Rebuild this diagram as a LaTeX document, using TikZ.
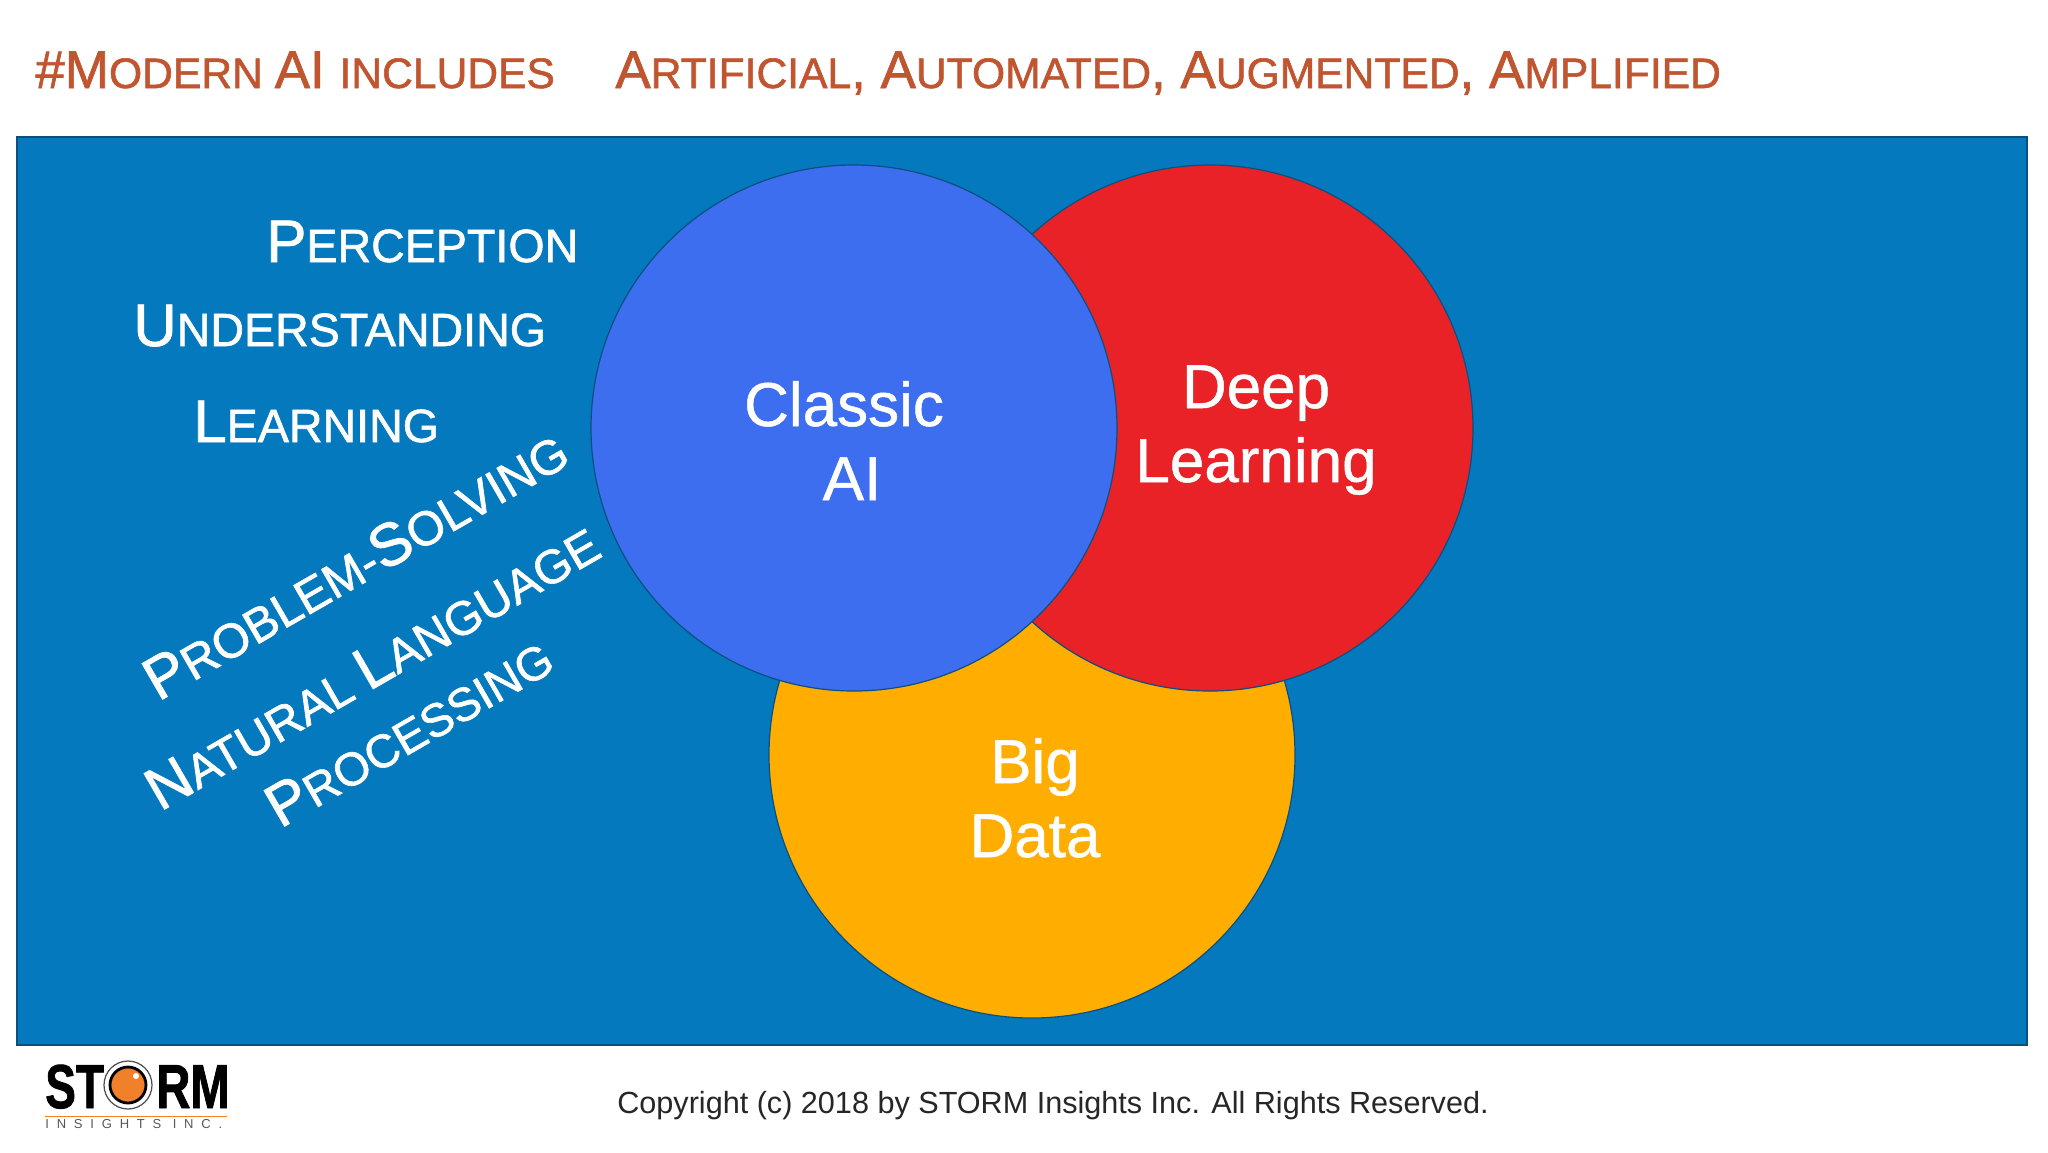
\documentclass[tikz,border=0pt]{standalone}
\usepackage{fontspec}
\setmainfont{Liberation Sans}
\newfontfamily\heavy[FakeBold=1.3]{Liberation Sans}
\newfontfamily\medium[FakeBold=0.8]{Liberation Sans}
\newfontfamily\logofont[FakeBold=1.5]{Liberation Sans}
\newfontfamily\logotag[LetterSpace=60]{Liberation Sans}
\definecolor{panelblue}{HTML}{0579BE}
\definecolor{paneledge}{HTML}{0B4F80}
\definecolor{classicblue}{HTML}{3D6EF0}
\definecolor{deepred}{HTML}{E92227}
\definecolor{bigamber}{HTML}{FFAE00}
\definecolor{titlerust}{HTML}{C1552F}
\definecolor{logoorange}{HTML}{F0812A}
\newcommand{\tbig}[1]{{\fontsize{26.5}{30}\selectfont #1}}
\newcommand{\tsm}[1]{{\fontsize{21.3}{30}\selectfont #1}}
\newcommand{\wbig}[1]{{\fontsize{30}{34}\selectfont #1}}
\newcommand{\wsm}[1]{{\fontsize{23.3}{34}\selectfont #1}}
\newcommand{\wmid}[1]{{\fontsize{24.1}{34}\selectfont #1}}
\newcommand{\wnat}[1]{{\fontsize{23.8}{34}\selectfont #1}}
\tikzset{
  x=0.5pt,y=-0.5pt,
  venn/.style={circle,draw=paneledge,line width=0.6pt,inner sep=0pt,outer sep=0pt,minimum size=#1},
  titletext/.style={anchor=base west,inner sep=0pt,text=titlerust,font=\heavy},
  skill/.style={anchor=base west,inner sep=0pt,text=white,font=\heavy},
  venntext/.style={anchor=base,inner sep=0pt,text=white,font=\medium\fontsize{31}{36}\selectfont},
}
\begin{document}
\begin{tikzpicture}
\useasboundingbox (0,0) rectangle (2048,1152);
\fill[white] (0,0) rectangle (2048,1152);
\node[titletext] (t1) at (35,88) {\tbig{\#M}\tsm{ODERN }\tbig{AI }\tsm{INCLUDES}};
\node[titletext] (t2) at (615,88) {\tbig{A}\tsm{RTIFICIAL}\tbig{, A}\tsm{UTOMATED}\tbig{, A}\tsm{UGMENTED}\tbig{, A}\tsm{MPLIFIED}};
\fill[panelblue,draw=paneledge,line width=0.7pt] (17,137) rectangle (2027,1045);
\node[venn=263pt,fill=bigamber] (big) at (1032,755) {};
\node[venn=263pt,fill=deepred] (deep) at (1210,428) {};
\node[venn=263pt,fill=classicblue] (classic) at (854,428) {};
\node[venntext] (c1) at (844,426) {Classic};
\node[venntext] (c2) at (852,500) {AI};
\node[venntext] (d1) at (1256,408) {Deep};
\node[venntext] (d2) at (1256,482) {Learning};
\node[venntext] (b1) at (1035,783) {Big};
\node[venntext] (b2) at (1035,857) {Data};
\node[skill] (s1) at (266,262) {\wbig{P}\wsm{ERCEPTION}};
\node[skill] (s2) at (133,346) {\wbig{U}\wsm{NDERSTANDING}};
\node[skill] (s3) at (193,442) {\wbig{L}\wsm{EARNING}};
\node[skill,rotate=30] (s4) at (158,702) {\wbig{P}\wmid{ROBLEM-}\wbig{S}\wmid{OLVING}};
\node[skill,rotate=30] (s5) at (160,812) {\wbig{N}\wnat{ATURAL }\wbig{L}\wnat{ANGUAGE}};
\node[skill,rotate=30] (s6) at (280,829) {\wbig{P}\wsm{ROCESSING}};
\node[anchor=base,inner sep=0pt,text=black!85,font=\fontsize{15.3}{20}\selectfont] (copy) at (1053,1113) {Copyright (c) 2018 by STORM Insights Inc. All Rights Reserved.};
% logo
\node[anchor=base west,inner sep=0pt,transform shape,xscale=.74,font=\logofont\bfseries\fontsize{31}{34}\selectfont] (logoa) at (45,1108) {ST};
\node[anchor=base east,inner sep=0pt,transform shape,xscale=.76,font=\logofont\bfseries\fontsize{31}{34}\selectfont] (logob) at (230,1108) {RM};
\node[circle,draw=black!70,line width=0.6pt,fill=white,inner sep=0pt,minimum size=24pt] (ring) at (128,1085) {};
\node[circle,draw=black,line width=1.4pt,fill=logoorange,inner sep=0pt,minimum size=18pt] (eye) at (128,1085) {};
\node[circle,fill=white,inner sep=0pt,minimum size=3pt] (glint) at (136,1076) {};
\draw[logoorange,line width=0.5pt] (45,1116) -- (227,1116);
\node[anchor=base west,inner sep=0pt,text=black!65,font=\logotag\fontsize{6.5}{8}\selectfont] (logoc) at (45,1128) {INSIGHTS INC.};
\end{tikzpicture}
\end{document}
